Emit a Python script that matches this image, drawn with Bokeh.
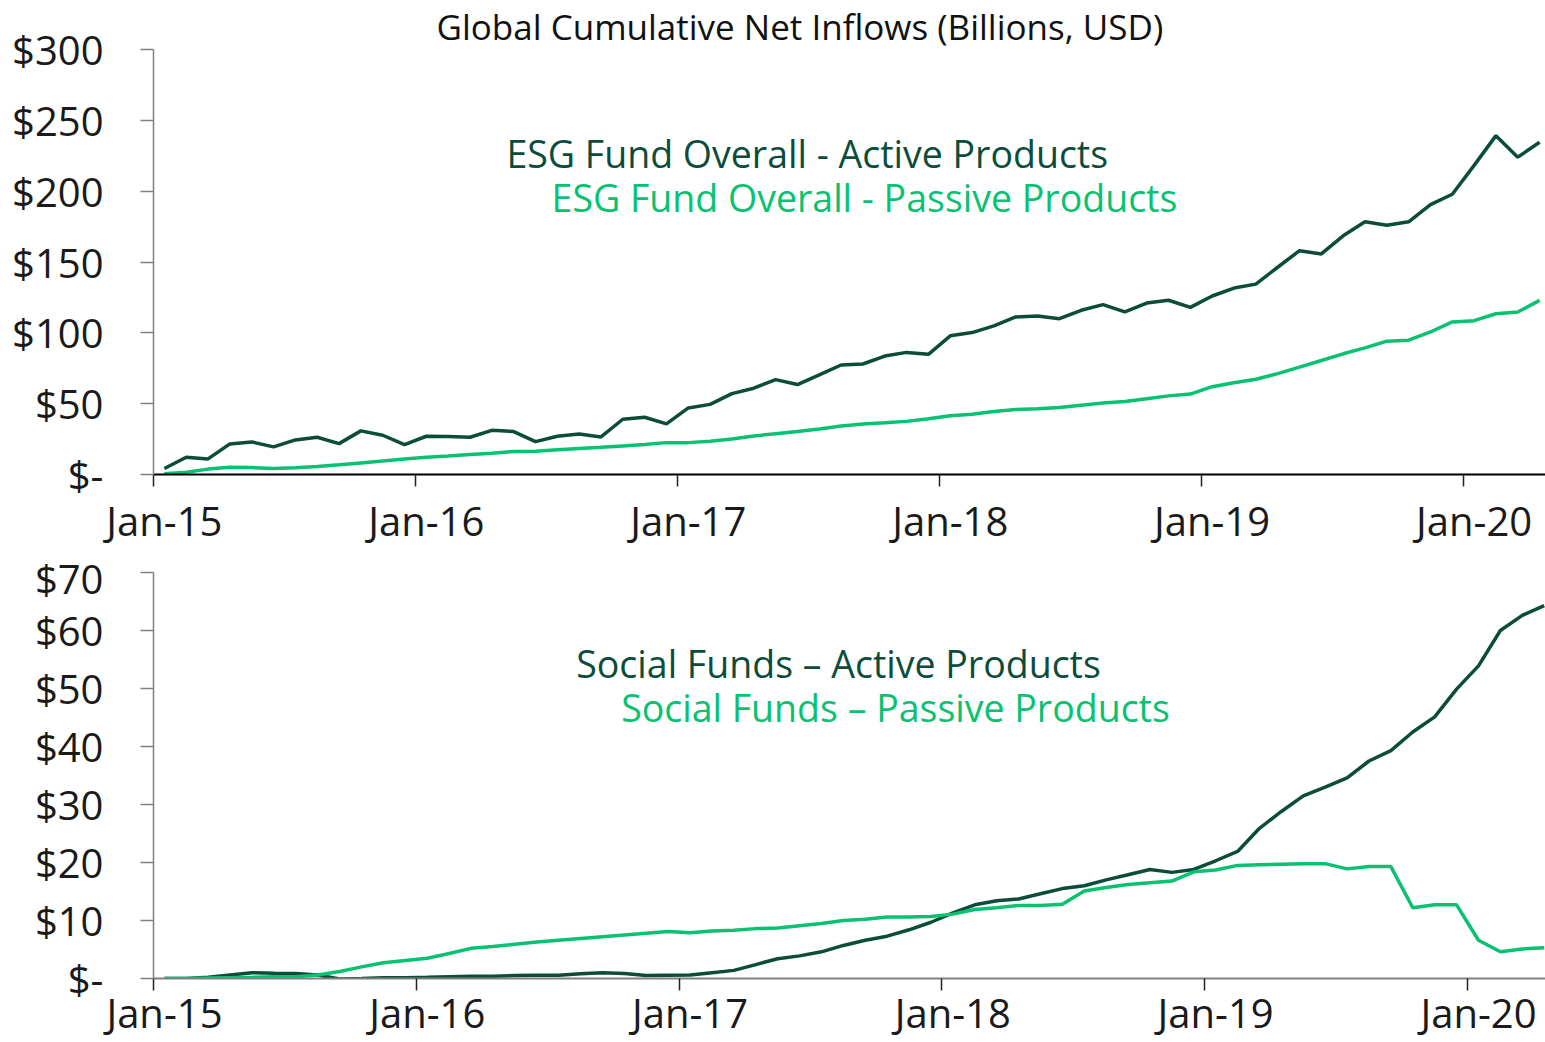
from bokeh.plotting import figure
from bokeh.layouts import column
from bokeh.models import FixedTicker, Label, Range1d
from bokeh.embed import file_html
from bokeh.resources import INLINE

# ---- data -------------------------------------------------------------
month_names = ["Jan", "Feb", "Mar", "Apr", "May", "Jun",
               "Jul", "Aug", "Sep", "Oct", "Nov", "Dec"]
years = ["15", "16", "17", "18", "19", "20"]
months = [f"{m}-{y}" for y in years for m in month_names][:64]   # Jan-15 .. Apr-20
x_idx = list(range(len(months)))

tick_labels = ["Jan-15", "Jan-16", "Jan-17", "Jan-18", "Jan-19", "Jan-20"]

esg_active = [4.2, 12.2, 11, 21.6, 23, 19.5, 24.4, 26.3, 21.8, 30.8, 27.7, 21.1,
              27, 26.8, 26.3, 31.2, 30.3, 23.2, 27, 28.6, 26.5, 39, 40.4, 35.7,
              47, 49.5, 57.1, 60.9, 67, 63.5, 70.3, 77.3, 78, 83.6, 86.2, 84.8,
              97.9, 100.2, 104.9, 111.2, 111.9, 110, 115.9, 119.9, 114.8, 121, 123, 118,
              126, 131.6, 134.4, 146.3, 158, 155.7, 168.5, 178.4, 176, 178.4, 190.5, 197.8,
              218.2, 239.2, 224, 234.5]
esg_passive = [0.5, 1.6, 3.8, 5.2, 4.9, 4.2, 4.7, 5.6, 6.8, 8.2, 9.6, 11,
               12.2, 13.1, 14.1, 15, 16.2, 16.4, 17.4, 18.3, 19.2, 20.2, 21.1, 22.5,
               22.5, 23.4, 25, 27.2, 28.8, 30.4, 32.1, 34.2, 35.6, 36.5, 37.5, 39.3,
               41.5, 42.6, 44.5, 45.9, 46.4, 47.3, 48.9, 50.4, 51.5, 53.4, 55.5, 56.8,
               62, 64.8, 67.2, 71.2, 75.8, 80.5, 85.2, 89.4, 94.1, 94.8, 100.6, 107.7,
               108.6, 113.5, 114.7, 122.9]
social_active = [0, 0, 0.2, 0.6, 1.0, 0.9, 0.85, 0.6, -0.1, 0, 0.15, 0.15,
                 0.2, 0.3, 0.4, 0.4, 0.5, 0.55, 0.55, 0.8, 1.0, 0.85, 0.5, 0.55,
                 0.6, 1.0, 1.4, 2.4, 3.4, 3.9, 4.6, 5.7, 6.6, 7.3, 8.4, 9.7,
                 11.3, 12.7, 13.4, 13.7, 14.6, 15.5, 16.0, 17.0, 17.9, 18.8, 18.3, 18.8,
                 20.3, 21.9, 25.9, 28.8, 31.5, 33.0, 34.6, 37.5, 39.3, 42.5, 45.1, 49.9,
                 53.9, 60.0, 62.6, 64.3]
social_passive = [0, 0, 0.1, 0.15, 0.2, 0.3, 0.3, 0.6, 1.2, 2.0, 2.7, 3.1,
                  3.5, 4.3, 5.2, 5.5, 5.9, 6.3, 6.6, 6.9, 7.2, 7.5, 7.8, 8.1,
                  7.9, 8.2, 8.3, 8.6, 8.7, 9.1, 9.5, 10.0, 10.2, 10.6, 10.6, 10.7,
                  11.1, 11.9, 12.2, 12.6, 12.6, 12.8, 15.1, 15.7, 16.2, 16.5, 16.8, 18.4,
                  18.7, 19.5, 19.6, 19.7, 19.8, 19.8, 18.9, 19.3, 19.3, 12.2, 12.7, 12.7,
                  6.6, 4.6, 5.1, 5.3]

top_yticks = [0, 50, 100, 150, 200, 250, 300]
bottom_yticks = [0, 10, 20, 30, 40, 50, 60, 70]

DARK = "#0B4D3A"
GREEN = "#08C271"
FONT = "Open Sans"
TICK_COLOR = "#1a1a1a"

label_pos = [months.index(t) for t in tick_labels]
boundaries = [p - 0.5 for p in label_pos]


def money(v):
    return "$-" if v == 0 else f"${v}"


def style(p, yticks, xaxis_color, yaxis_color, x_standoff):
    p.outline_line_color = None
    p.xgrid.grid_line_color = None
    p.ygrid.grid_line_color = None
    p.background_fill_color = "white"
    p.border_fill_color = "white"

    xa = p.xaxis[0]
    xa.ticker = FixedTicker(ticks=label_pos, minor_ticks=boundaries)
    xa.major_label_overrides = {pos: lab for pos, lab in zip(label_pos, tick_labels)}
    xa.major_tick_out = 0
    xa.major_tick_in = 0
    xa.minor_tick_out = 12
    xa.minor_tick_in = 0
    xa.minor_tick_line_color = "#222222"
    xa.minor_tick_line_width = 1.5
    xa.axis_line_color = xaxis_color
    xa.axis_line_width = 2
    xa.major_label_standoff = x_standoff
    xa.major_label_text_font = FONT
    xa.major_label_text_font_size = "40px"
    xa.major_label_text_color = TICK_COLOR

    ya = p.yaxis[0]
    ya.ticker = FixedTicker(ticks=yticks)
    ya.major_label_overrides = {v: money(v) for v in yticks}
    ya.major_tick_out = 13
    ya.major_tick_in = 0
    ya.minor_tick_out = 0
    ya.minor_tick_in = 0
    ya.major_tick_line_color = yaxis_color
    ya.major_tick_line_width = 1.5
    ya.axis_line_color = yaxis_color
    ya.axis_line_width = 1.5
    ya.major_label_standoff = 37
    ya.major_label_text_font = FONT
    ya.major_label_text_font_size = "40px"
    ya.major_label_text_color = TICK_COLOR
    ya.major_label_text_baseline = "middle"


# ---- top panel -----------------------------------------------------------
p1 = figure(width=1545, height=550, output_backend="svg", toolbar_location=None,
            x_range=Range1d(-0.5, 63.27), y_range=Range1d(0, 300),
            min_border_left=153, min_border_right=0, min_border_top=47,
            min_border_bottom=76,
            title="Global Cumulative Net Inflows (Billions, USD)")
p1.title.text_font = FONT
p1.title.text_font_size = "35px"
p1.title.text_font_style = "normal"
p1.title.text_color = "#111111"
p1.title.align = "left"
p1.title.offset = 283
p1.title.standoff = 0
p1.line(x_idx, esg_active, line_width=3.5, color=DARK)
p1.line(x_idx, esg_passive, line_width=3.5, color=GREEN)
style(p1, top_yticks, "#000000", "#808080", 6)

p1.add_layout(Label(x=29.45, y=226.8, text="ESG Fund Overall - Active Products",
                    text_align="center", text_baseline="middle", text_font=FONT,
                    text_font_size="37.5px", text_color=DARK))
p1.add_layout(Label(x=32.07, y=195.2, text="ESG Fund Overall - Passive Products",
                    text_align="center", text_baseline="middle", text_font=FONT,
                    text_font_size="37.5px", text_color=GREEN))

# ---- bottom panel --------------------------------------------------------
p2 = figure(width=1545, height=492, output_backend="svg", toolbar_location=None,
            x_range=Range1d(-0.5, 63.06), y_range=Range1d(0, 70),
            min_border_left=153, min_border_right=0, min_border_top=22,
            min_border_bottom=64)
p2.line(x_idx, social_active, line_width=3.5, color=DARK)
p2.line(x_idx, social_passive, line_width=3.5, color=GREEN)
style(p2, bottom_yticks, "#808080", "#808080", -6)

p2.add_layout(Label(x=30.78, y=54.3, text="Social Funds \u2013 Active Products",
                    text_align="center", text_baseline="middle", text_font=FONT,
                    text_font_size="37.5px", text_color=DARK))
p2.add_layout(Label(x=33.38, y=46.7, text="Social Funds \u2013 Passive Products",
                    text_align="center", text_baseline="middle", text_font=FONT,
                    text_font_size="37.5px", text_color=GREEN))

layout = column(p1, p2)
open("out.html", "w").write(file_html(layout, INLINE))
